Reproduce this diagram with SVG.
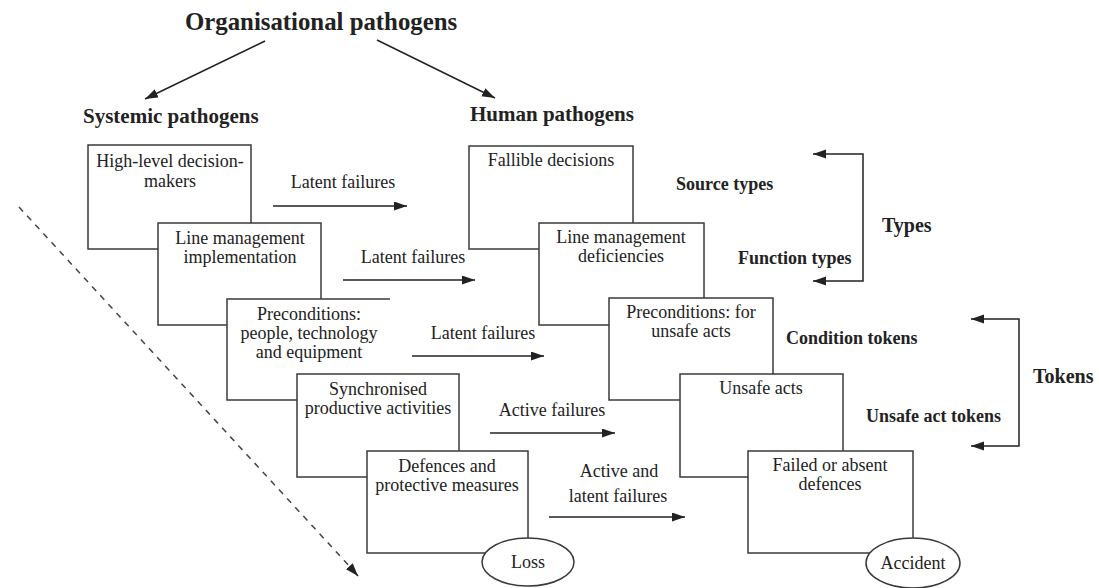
<svg xmlns="http://www.w3.org/2000/svg" width="1099" height="588" viewBox="0 0 1099 588">
<defs>
<marker id="ah" markerUnits="userSpaceOnUse" markerWidth="14" markerHeight="10" refX="13" refY="4.5" orient="auto-start-reverse">
<path d="M0,0 L13,4.5 L0,9 z" fill="#222"/>
</marker>
<style>
.box{fill:#fff;stroke:#3a3a3a;stroke-width:1.5}
.open{fill:#fff;stroke:none}
.edge{fill:none;stroke:#3a3a3a;stroke-width:1.5}
.t{font-family:"Liberation Serif",serif;font-size:18px;fill:#222;text-anchor:middle}
.l{font-family:"Liberation Serif",serif;font-size:18px;fill:#222}
.b{font-family:"Liberation Serif",serif;font-weight:bold;fill:#222}
.c{fill:none;stroke:#222;stroke-width:1.5}
.d{fill:none;stroke:#444;stroke-width:1.5;stroke-dasharray:6 6}
</style>
</defs>
<rect width="1099" height="588" fill="#fff"/>

<g id="headings">
<text class="b" x="185" y="30" font-size="24.8">Organisational pathogens</text>
<text class="b" x="83" y="123" font-size="21">Systemic pathogens</text>
<text class="b" x="470" y="121" font-size="21">Human pathogens</text>
</g>

<g id="side-labels">
<text class="b" x="676" y="190" font-size="18">Source types</text>
<text class="b" x="738" y="264" font-size="18">Function types</text>
<text class="b" x="882" y="232" font-size="20">Types</text>
<text class="b" x="786" y="344" font-size="18">Condition tokens</text>
<text class="b" x="1033" y="383" font-size="20">Tokens</text>
<text class="b" x="866" y="422" font-size="18">Unsafe act tokens</text>
</g>

<g id="systemic-stack">
<g id="high-level">
<rect class="box" x="88" y="145" width="163" height="104"/>
<text class="t" x="170" y="167">High-level decision-</text>
<text class="t" x="170" y="187">makers</text>
</g>
<g id="line-impl">
<rect class="box" x="158" y="223" width="163" height="102"/>
<text class="t" x="240" y="244">Line management</text>
<text class="t" x="240" y="263">implementation</text>
</g>
<g id="precond-people">
<rect class="open" x="227" y="299" width="163" height="101"/>
<path class="edge" d="M390,299 H227 V400 H300"/>
<text class="t" x="309" y="320">Preconditions:</text>
<text class="t" x="309" y="339">people, technology</text>
<text class="t" x="309" y="358">and equipment</text>
</g>
<g id="synchronised">
<rect class="box" x="297" y="374" width="162" height="103"/>
<text class="t" x="378" y="395">Synchronised</text>
<text class="t" x="378" y="414">productive activities</text>
</g>
<g id="defences">
<rect class="box" x="367" y="451" width="161" height="102"/>
<text class="t" x="447" y="472">Defences and</text>
<text class="t" x="447" y="491">protective measures</text>
</g>
<g id="loss">
<ellipse class="box" cx="528" cy="562" rx="46" ry="24"/>
<text class="t" x="528" y="568">Loss</text>
</g>
</g>

<g id="human-stack">
<g id="fallible">
<rect class="box" x="469" y="146" width="164" height="103"/>
<text class="t" x="551" y="166">Fallible decisions</text>
</g>
<g id="line-def">
<rect class="box" x="539" y="223" width="165" height="102"/>
<text class="t" x="621" y="243">Line management</text>
<text class="t" x="621" y="262">deficiencies</text>
</g>
<g id="precond-unsafe">
<rect class="box" x="609" y="298" width="164" height="102"/>
<text class="t" x="691" y="318">Preconditions: for</text>
<text class="t" x="691" y="337">unsafe acts</text>
</g>
<g id="unsafe-acts">
<rect class="box" x="680" y="374" width="163" height="103"/>
<text class="t" x="761" y="394">Unsafe acts</text>
</g>
<g id="failed-def">
<rect class="box" x="748" y="451" width="165" height="102"/>
<text class="t" x="830" y="471">Failed or absent</text>
<text class="t" x="830" y="490">defences</text>
</g>
<g id="accident">
<ellipse class="box" cx="913" cy="563" rx="47" ry="25"/>
<text class="t" x="913" y="569">Accident</text>
</g>
</g>

<g id="connectors">
<path class="c" d="M265,41 L145,99" marker-end="url(#ah)"/>
<path class="c" d="M377,40 L495,98" marker-end="url(#ah)"/>
<path class="c" d="M273,206 H407" marker-end="url(#ah)"/>
<path class="c" d="M343,280 H475" marker-end="url(#ah)"/>
<path class="c" d="M412,356 H544" marker-end="url(#ah)"/>
<path class="c" d="M490,433 H615" marker-end="url(#ah)"/>
<path class="c" d="M549,517 H685" marker-end="url(#ah)"/>
<path class="c" d="M813,154 H863 V281 H813" marker-start="url(#ah)" marker-end="url(#ah)"/>
<path class="c" d="M971,319 H1019 V446 H971" marker-start="url(#ah)" marker-end="url(#ah)"/>
<path class="d" d="M19,207 L352,569"/>
<path class="c" d="M350,567 L358,576" marker-end="url(#ah)"/>
</g>

<g id="connector-labels">
<text class="t" x="343" y="188">Latent failures</text>
<text class="t" x="413" y="263">Latent failures</text>
<text class="t" x="483" y="339">Latent failures</text>
<text class="t" x="552" y="416">Active failures</text>
<text class="t" x="619" y="477">Active and</text>
<text class="t" x="618" y="502">latent failures</text>
</g>
</svg>
